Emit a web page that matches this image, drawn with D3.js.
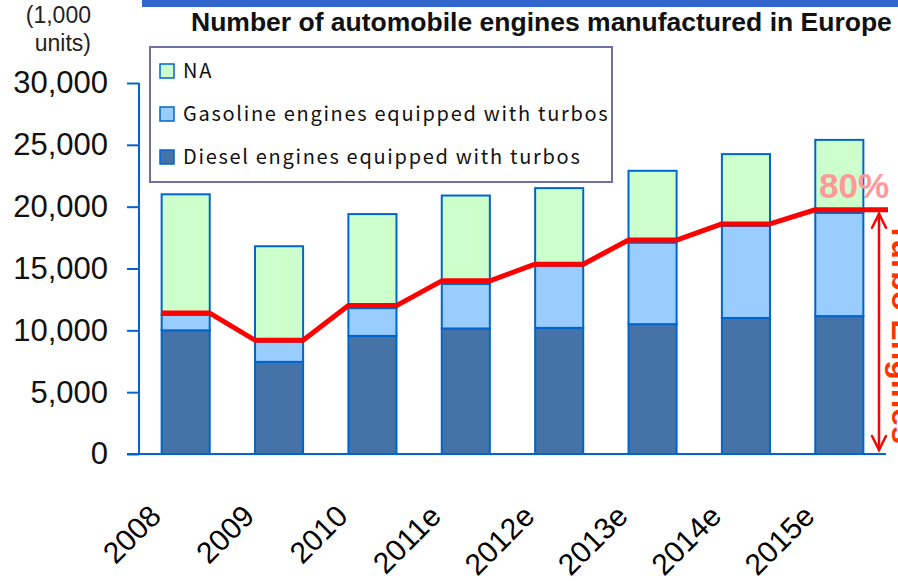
<!DOCTYPE html>
<html>
<head>
<meta charset="utf-8">
<script src="https://cdn.jsdelivr.net/npm/d3@7"></script>
<style>
  body { margin: 0; background: #fff; }
  svg { display: block; }
  text { font-family: "Liberation Sans", Arial, sans-serif; }
</style>
</head>
<body>
<script>
// data (1,000 units)
var years   = ["2008", "2009", "2010", "2011e", "2012e", "2013e", "2014e", "2015e"],
    diesel  = [10000, 7450, 9550, 10150, 10200, 10500, 11000, 11150],
    gasoline = [1250, 1650, 2250, 3600, 5000, 6600, 7450, 8350],
    na      = [9750, 7700, 7600, 7150, 6300, 5800, 5800, 5900],
    turboLine = [11400, 9200, 12000, 14000, 15350, 17300, 18600, 19750],
    yTicks  = [0, 5000, 10000, 15000, 20000, 25000, 30000];

var seriesNames = ["Diesel engines equipped with turbos", "Gasoline engines equipped with turbos", "NA"],
    colors = ["#4572A7", "#99CCFF", "#CCFFCC"];

var W = 898, H = 581;

var svg = d3.select("body").append("svg")
    .attr("width", W)
    .attr("height", H);

var x = d3.scaleBand().domain(years).range([139, 886])
    .paddingInner(0.485).paddingOuter(0.2425);
var y = d3.scaleLinear().domain([0, 30000]).range([454, 83]);

// stacked table
var table = years.map(function(d, i) {
  return { year: d, diesel: diesel[i], gasoline: gasoline[i], na: na[i] };
});
var stack = d3.stack().keys(["diesel", "gasoline", "na"])(table);

// blue band at top
svg.append("rect")
    .attr("x", 142).attr("y", 0)
    .attr("width", W - 142).attr("height", 7)
    .attr("fill", "#3366CC");

// title
svg.append("text")
    .attr("x", 191).attr("y", 31)
    .attr("font-size", 26.5).attr("font-weight", "bold")
    .attr("fill", "#111")
    .text("Number of automobile engines manufactured in Europe");

// unit label
svg.append("text")
    .attr("text-anchor", "end")
    .attr("font-size", 23).attr("fill", "#222")
  .selectAll("tspan")
    .data(["(1,000", "units)"])
  .enter().append("tspan")
    .attr("x", 91)
    .attr("y", function(d, i) { return 23 + i * 28; })
    .text(String);

// bars
svg.append("g").selectAll("g")
    .data(stack)
  .enter().append("g")
    .attr("fill", function(d, i) { return colors[i]; })
  .selectAll("rect")
    .data(function(d) { return d; })
  .enter().append("rect")
    .attr("x", function(d) { return x(d.data.year); })
    .attr("y", function(d) { return y(d[1]); })
    .attr("width", x.bandwidth())
    .attr("height", function(d) { return y(d[0]) - y(d[1]); })
    .attr("stroke", "#0066CC")
    .attr("stroke-width", 2);

// y axis
var yAxis = svg.append("g")
    .attr("transform", "translate(139,0)")
    .call(d3.axisLeft(y).tickValues(yTicks).tickSize(12).tickPadding(19)
      .tickFormat(d3.format(",")));
yAxis.select(".domain").attr("stroke", "#0066CC").attr("stroke-width", 2)
    .attr("d", "M0," + y(30000) + "V" + y(0));
yAxis.selectAll(".tick line").attr("stroke", "#0066CC").attr("stroke-width", 2);
yAxis.selectAll(".tick text")
    .attr("font-size", 31)
    .attr("font-family", "Liberation Sans, Arial, sans-serif")
    .attr("fill", "#111");

// x axis line
svg.append("line")
    .attr("x1", 127).attr("x2", x.range()[1])
    .attr("y1", y(0)).attr("y2", y(0))
    .attr("stroke", "#0066CC").attr("stroke-width", 2);

// x labels
svg.append("g").selectAll("text")
    .data(years)
  .enter().append("text")
    .attr("text-anchor", "end")
    .attr("font-size", 30)
    .attr("fill", "#000")
    .attr("transform", function(d) {
      return "translate(" + (x(d) + x.bandwidth() / 2 - 23) + ",518) rotate(-45)";
    })
    .text(String);

// turbo share line
var pts = [];
years.forEach(function(d, i) {
  var x1 = (i === years.length - 1) ? x.range()[1] + 2 : x(d) + x.bandwidth();
  pts.push([x(d), y(turboLine[i])]);
  pts.push([x1, y(turboLine[i])]);
});
svg.append("path")
    .attr("d", d3.line()(pts))
    .attr("fill", "none")
    .attr("stroke", "#FF0000")
    .attr("stroke-width", 5)
    .attr("stroke-linejoin", "round");

// double arrow
var ax = x.range()[1] - 7,
    aTop = y(turboLine[turboLine.length - 1]) + 4,
    aBot = y(0) - 4;
var arrow = svg.append("g")
    .attr("stroke", "#FF0000").attr("stroke-width", 2.5).attr("fill", "none")
    .attr("stroke-linecap", "round");
arrow.append("line").attr("x1", ax).attr("x2", ax).attr("y1", aTop).attr("y2", aBot);
arrow.append("path").attr("d", "M" + (ax - 7) + "," + (aTop + 14) + "L" + ax + "," + aTop + "L" + (ax + 7) + "," + (aTop + 14));
arrow.append("path").attr("d", "M" + (ax - 7) + "," + (aBot - 14) + "L" + ax + "," + aBot + "L" + (ax + 7) + "," + (aBot - 14));

// 80% label
svg.append("text")
    .attr("x", 854).attr("y", 198)
    .attr("text-anchor", "middle")
    .attr("font-size", 35).attr("font-weight", "bold")
    .attr("fill", "#FF9999")
    .text("80%");

// rotated side label (cut off at the edge)
svg.append("text")
    .attr("transform", "translate(892,333) rotate(90)")
    .attr("text-anchor", "middle")
    .attr("font-size", 32).attr("font-weight", "bold")
    .attr("fill", "#FF3300")
    .text("Turbo Engines");

// legend
var legend = svg.append("g");
legend.append("rect")
    .attr("x", 150).attr("y", 47)
    .attr("width", 462).attr("height", 135)
    .attr("fill", "#fff")
    .attr("stroke", "#6E6EA0").attr("stroke-width", 2);

var legendItems = [2, 1, 0];
var li = legend.selectAll(".item")
    .data(legendItems)
  .enter().append("g")
    .attr("class", "item")
    .attr("transform", function(d, i) { return "translate(160," + (71 + i * 43) + ")"; });
li.append("rect")
    .attr("x", 0).attr("y", -7)
    .attr("width", 14).attr("height", 14)
    .attr("fill", function(d) { return colors[d]; })
    .attr("stroke", "#0066CC").attr("stroke-width", 1.5);
li.append("text")
    .attr("x", 23).attr("dy", "0.36em")
    .attr("font-size", 20)
    .attr("letter-spacing", 1.7)
    .style("font-family", "'Noto Sans CJK JP', sans-serif")
    .attr("fill", "#111")
    .text(function(d) { return seriesNames[d]; });
</script>
</body>
</html>
